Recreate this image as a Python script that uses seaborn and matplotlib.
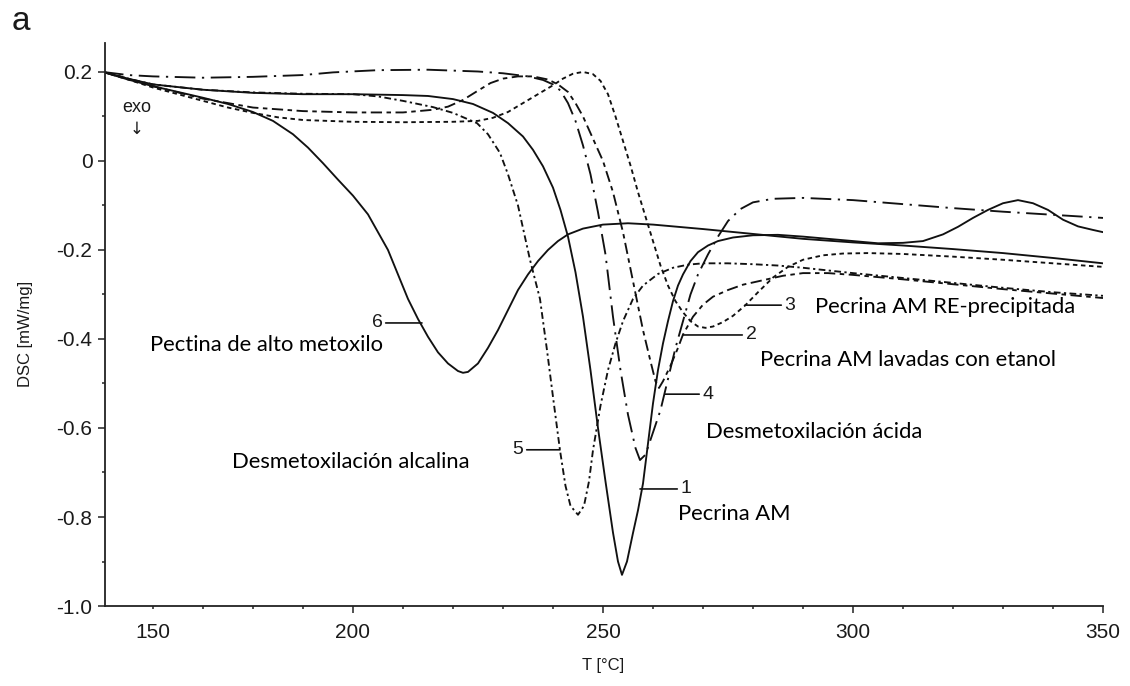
import numpy as np
import pandas as pd
import matplotlib
matplotlib.use("Agg")
import matplotlib.pyplot as plt
import seaborn as sns

# ---------------- data ----------------
t1 = [150, 155, 160, 170, 180, 190, 200, 210, 215, 220, 224, 228, 231, 234, 236, 238, 240, 241.5, 243, 244.5,
      246, 247.5, 249, 250.5, 252, 253, 253.8, 254.8, 256, 257, 258, 259, 260, 261, 262, 263, 264, 265, 266,
      267.5, 269, 271, 273, 276, 280, 285, 290, 295, 300, 305, 310, 314, 318, 321, 324, 327, 330, 333, 336,
      339, 342, 345, 348, 350]
d1 = [0.2, 0.185, 0.172, 0.16, 0.153, 0.15, 0.15, 0.148, 0.146, 0.139, 0.128, 0.108, 0.085, 0.055, 0.025,
      -0.012, -0.06, -0.11, -0.17, -0.25, -0.35, -0.47, -0.6, -0.72, -0.835, -0.9, -0.93, -0.9, -0.836, -0.785,
      -0.725, -0.635, -0.545, -0.47, -0.41, -0.36, -0.315, -0.28, -0.255, -0.225, -0.205, -0.19, -0.18, -0.172,
      -0.167, -0.166, -0.17, -0.175, -0.18, -0.185, -0.184, -0.18, -0.165, -0.148, -0.128, -0.11, -0.095,
      -0.088, -0.095, -0.11, -0.132, -0.147, -0.155, -0.16]

t2 = [150, 155, 160, 170, 180, 190, 200, 210, 216, 219, 222, 225, 227.5, 230, 233, 236, 239, 241, 243, 244.5,
      246, 248, 250, 252, 254, 256, 258, 259.5, 260.5, 261.2, 262, 263.5, 265, 266, 268, 270, 272, 275, 278,
      282, 286, 290, 295, 300, 310, 320, 330, 340, 350]
d2 = [0.2, 0.185, 0.168, 0.14, 0.12, 0.112, 0.109, 0.109, 0.115, 0.122, 0.137, 0.158, 0.175, 0.185, 0.19,
      0.19, 0.183, 0.172, 0.155, 0.13, 0.1, 0.05, 0.0, -0.07, -0.16, -0.27, -0.38, -0.45, -0.495, -0.51,
      -0.495, -0.46, -0.42, -0.39, -0.35, -0.323, -0.305, -0.29, -0.278, -0.268, -0.258, -0.252, -0.252,
      -0.256, -0.266, -0.277, -0.288, -0.298, -0.308]

t3 = [150, 155, 160, 165, 170, 175, 180, 185, 190, 200, 210, 220, 225, 228, 231, 234, 237, 240, 242, 244, 246,
      248, 249.5, 251, 252.5, 254, 255.5, 257, 258.5, 260, 261.5, 263, 264.5, 266, 267.5, 269, 270.5, 272, 274,
      276, 278.4, 281, 284, 287, 290, 294, 298, 303, 310, 320, 330, 340, 350]
d3 = [0.2, 0.183, 0.165, 0.15, 0.135, 0.12, 0.108, 0.098, 0.092, 0.088, 0.087, 0.088, 0.09, 0.097, 0.11, 0.13,
      0.15, 0.17, 0.185, 0.196, 0.2, 0.195, 0.18, 0.15, 0.1, 0.045, -0.01, -0.07, -0.125, -0.18, -0.235, -0.28,
      -0.315, -0.34, -0.36, -0.372, -0.375, -0.372, -0.362, -0.348, -0.325, -0.295, -0.262, -0.238, -0.222,
      -0.212, -0.208, -0.207, -0.209, -0.215, -0.222, -0.23, -0.238]

t4 = [150, 155, 160, 170, 180, 190, 196, 205, 215, 225, 230, 235, 238, 240, 241.5, 243, 244.5, 246, 247.5, 249,
      250.5, 252, 253.5, 255, 256.5, 257.4, 258.5, 260, 261.5, 263, 264.5, 266, 267.5, 269, 271, 273, 275,
      277.5, 280, 284, 290, 300, 310, 320, 330, 340, 350]
d4 = [0.2, 0.193, 0.19, 0.187, 0.189, 0.193, 0.199, 0.204, 0.205, 0.201, 0.197, 0.19, 0.182, 0.172, 0.158,
      0.13, 0.09, 0.035, -0.03, -0.115, -0.21, -0.35, -0.47, -0.57, -0.645, -0.672, -0.66, -0.61, -0.56, -0.49,
      -0.42, -0.36, -0.3, -0.255, -0.21, -0.17, -0.135, -0.108, -0.093, -0.085, -0.083, -0.088, -0.097, -0.106,
      -0.114, -0.121, -0.128]

t5 = [150, 155, 160, 170, 180, 190, 200, 205, 210, 216, 220, 224.8, 227, 229.4, 231, 233, 235.4, 237.4, 238.8,
      240, 241.4, 242.5, 243.5, 245, 246.2, 247.2, 248, 249.5, 251, 252.5, 254, 256, 258, 261, 264, 267, 270,
      275, 280, 285, 290, 300, 310, 320, 330, 340, 350]
d5 = [0.2, 0.185, 0.172, 0.16, 0.154, 0.151, 0.15, 0.145, 0.135, 0.121, 0.108, 0.085, 0.06, 0.018, -0.03,
      -0.1, -0.222, -0.31, -0.425, -0.53, -0.65, -0.73, -0.775, -0.795, -0.775, -0.72, -0.65, -0.55, -0.47,
      -0.41, -0.36, -0.31, -0.28, -0.254, -0.24, -0.233, -0.23, -0.23, -0.232, -0.235, -0.24, -0.252, -0.263,
      -0.274, -0.285, -0.295, -0.303]

t6 = [150, 155, 160, 165, 170, 175, 180, 184, 188, 191, 194, 197, 200, 203, 205, 207, 209, 211, 213, 215, 217,
      219, 221, 222, 223, 225, 227, 229, 231, 233, 235, 237, 239, 241, 243, 246, 250, 255, 260, 265, 270, 280,
      290, 300, 310, 320, 330, 340, 350]
d6 = [0.2, 0.183, 0.168, 0.155, 0.142, 0.128, 0.11, 0.09, 0.06, 0.03, -0.005, -0.042, -0.078, -0.12, -0.16,
      -0.2, -0.255, -0.31, -0.355, -0.395, -0.43, -0.455, -0.472, -0.476, -0.474, -0.455, -0.42, -0.38, -0.335,
      -0.29, -0.255, -0.225, -0.2, -0.18, -0.165, -0.152, -0.143, -0.14, -0.143, -0.148, -0.153, -0.164,
      -0.175, -0.183, -0.19, -0.198, -0.207, -0.218, -0.23]

curve_ids = ["1", "2", "3", "4", "5", "6"]
curve_names = ["Pecrina AM", "Pecrina AM lavadas con etanol", "Pecrina AM RE-precipitada",
               "Desmetoxilación ácida", "Desmetoxilación alcalina", "Pectina de alto metoxilo"]

# number labels: (tip T, tip DSC, text T)
num_tip_t = [257.4, 266.0, 278.4, 262.4, 241.4, 213.8]
num_tip_d = [-0.737, -0.391, -0.324, -0.524, -0.649, -0.364]
num_txt_t = [266.6, 279.6, 287.4, 271.0, 233.0, 204.8]

# descriptive names: (left T, baseline DSC)
name_t = [265.0, 281.4, 292.4, 270.6, 175.8, 159.4]
name_d = [-0.807, -0.461, -0.342, -0.622, -0.690, -0.427]

x_major = [160, 200, 250, 300, 350]
x_major_labels = ["150", "200", "250", "300", "350"]
y_major = [-1.0, -0.8, -0.6, -0.4, -0.2, 0.0, 0.2]
y_major_labels = ["-1.0", "-0.8", "-0.6", "-0.4", "-0.2", "0", "0.2"]

# ---------------- styling ----------------
sns.set_style("ticks")
plt.rcParams["font.family"] = ["Liberation Sans", "DejaVu Sans"]
plt.rcParams["axes.unicode_minus"] = False

styles = {
    "1": "-",
    "2": (0, (6.0, 2.4, 2.4, 2.4)),
    "3": (0, (2.4, 1.9)),
    "4": (0, (11, 3.5, 1.2, 3.5)),
    "5": (0, (3.6, 1.8, 1.2, 1.8)),
    "6": "-",
}
data_t = {"1": t1, "2": t2, "3": t3, "4": t4, "5": t5, "6": t6}
data_d = {"1": d1, "2": d2, "3": d3, "4": d4, "5": d5, "6": d6}

LINE = "#111111"

fig = plt.figure(figsize=(11.3, 6.86), dpi=100)
ax = fig.add_axes([0.0929, 0.1166, 0.8832, 0.8207])

for cid in curve_ids:
    df = pd.DataFrame({"T": data_t[cid], "DSC": data_d[cid]})
    sns.lineplot(data=df, x="T", y="DSC", ax=ax, color=LINE, linewidth=1.35,
                 linestyle=styles[cid], estimator=None, sort=False, legend=False)

ax.set_xlim(150.4, 350)
ax.set_ylim(-1.0, 0.265)

sns.despine(ax=ax)
for s in ["left", "bottom"]:
    ax.spines[s].set_color("#222222")
    ax.spines[s].set_linewidth(1.3)

ax.set_xticks(x_major)
ax.set_xticklabels(x_major_labels)
ax.set_xticks(list(range(170, 350, 10)), minor=True)
ax.set_yticks(y_major)
ax.set_yticklabels(y_major_labels)
ax.set_yticks([-0.9, -0.7, -0.5, -0.3, -0.1, 0.1], minor=True)
ax.tick_params(which="major", direction="out", length=5, width=1.1, color="#222222",
               labelsize=15, labelcolor="#1a1a1a")
ax.tick_params(axis="x", which="major", pad=7.5)
ax.tick_params(axis="y", which="major", pad=4)
ax.tick_params(which="minor", direction="out", length=2.3, width=1.1, color="#222222")
ax.xaxis.get_major_ticks()[0].tick1line.set_markersize(2.3)

ax.set_xlabel("T [°C]", fontsize=12, color="#1a1a1a")
ax.set_ylabel("DSC [mW/mg]", fontsize=12, color="#1a1a1a")
ax.xaxis.set_label_coords(0.499, -0.092)
ax.yaxis.set_label_coords(-0.072, 0.483)

# number labels with leader lines
for i, cid in enumerate(curve_ids):
    ax.annotate(cid, xy=(num_tip_t[i], num_tip_d[i]), xytext=(num_txt_t[i], num_tip_d[i]),
                ha="center", va="center", fontsize=14, color="#1a1a1a",
                arrowprops=dict(arrowstyle="-", color=LINE, lw=1.2, shrinkA=0, shrinkB=0))

# descriptive names
for i, name in enumerate(curve_names):
    ax.text(name_t[i], name_d[i], name, ha="left", va="baseline", fontsize=15.8,
            family=["Lato", "DejaVu Sans"], color="black")

# exo marker
ax.text(156.8, 0.121, "exo", ha="center", va="center", fontsize=13, color="#1a1a1a")
ax.text(156.8, 0.072, "↓", ha="center", va="center", fontsize=12, family=["DejaVu Sans"], color="#1a1a1a")

fig.text(12 / 1130, 1 - 30 / 686, "a", fontsize=24, ha="left", va="baseline", color="#1a1a1a")

fig.savefig("out.png", dpi=100)
